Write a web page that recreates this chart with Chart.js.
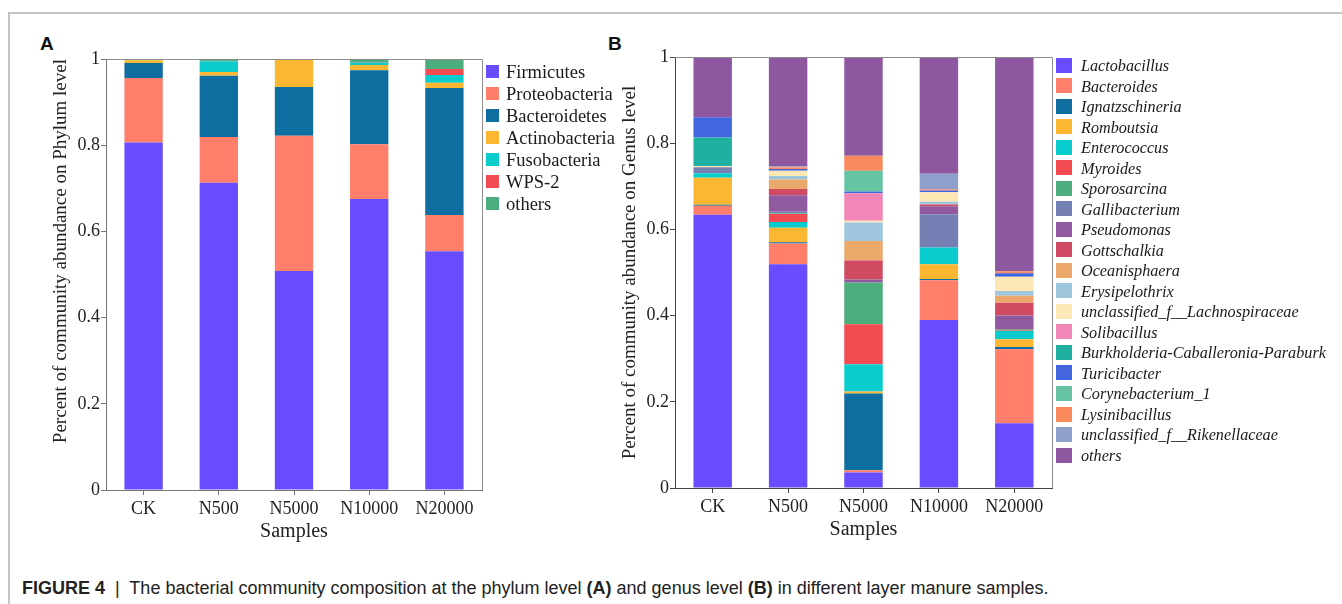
<!DOCTYPE html>
<html>
<head>
<meta charset="utf-8">
<script src="https://cdn.jsdelivr.net/npm/chart.js@4.4.1/dist/chart.umd.min.js"></script>
<style>
body{margin:0;width:1342px;height:604px;position:relative;overflow:hidden;background:#fff;font-family:"Liberation Serif",serif;}
#frame{position:absolute;left:8px;top:12px;width:1340px;height:600px;border-top:2px solid #c4c4c4;border-left:2px solid #c4c4c4;}
.plabel{position:absolute;font-family:"Liberation Sans",Arial,sans-serif;font-weight:bold;font-size:19px;color:#111;}
canvas{position:absolute;top:0;}
.legend{position:absolute;color:#1a1a1a;}
.legend .row{position:relative;white-space:nowrap;}
.legend .sw{position:absolute;left:0;}
#caption{position:absolute;left:22px;top:578px;font-family:"Liberation Sans",Arial,sans-serif;font-size:18px;color:#222;white-space:nowrap;}
</style>
</head>
<body>
<div id="frame"></div>
<div class="plabel" style="left:40px;top:33px">A</div>
<div class="plabel" style="left:608px;top:33px">B</div>
<canvas id="chartA" width="490" height="560" style="left:0px"></canvas>
<canvas id="chartB" width="500" height="560" style="left:560px"></canvas>
<div id="legendA" class="legend" style="left:486px;top:62px"></div>
<div id="legendB" class="legend" style="left:1056px;top:56px"></div>
<div id="caption"><b>FIGURE 4</b> &nbsp;|&nbsp; The bacterial community composition at the phylum level <b>(A)</b> and genus level <b>(B)</b> in different layer manure samples.</div>
<script>
// samples on the x axis
const samples=["CK","N500","N5000","N10000","N20000"];
const yTicks=[0,0.2,0.4,0.6,0.8,1];

// panel A - phylum level
const phylumNames=["Firmicutes","Proteobacteria","Bacteroidetes","Actinobacteria","Fusobacteria","WPS-2","others"];
const phylumColors=["#684cff","#ff7f6b","#0e6ea0","#fbb632","#0acccc","#f24c52","#4bae7c"];
const firmicutes=[0.806,0.713,0.508,0.675,0.554];
const proteobacteria=[0.150,0.106,0.314,0.127,0.084];
const bacteroidetes=[0.035,0.142,0.113,0.172,0.295];
const actinobacteria=[0.006,0.009,0.063,0.012,0.012];
const fusobacteria=[0.001,0.024,0.001,0.006,0.018];
const wps2=[0,0,0,0.001,0.014];
const othersA=[0.002,0.006,0.001,0.007,0.023];

// panel B - genus level
const genusNames=["Lactobacillus","Bacteroides","Ignatzschineria","Romboutsia","Enterococcus","Myroides","Sporosarcina","Gallibacterium","Pseudomonas","Gottschalkia","Oceanisphaera","Erysipelothrix","unclassified_f__Lachnospiraceae","Solibacillus","Burkholderia-Caballeronia-Paraburk","Turicibacter","Corynebacterium_1","Lysinibacillus","unclassified_f__Rikenellaceae","others"];
const genusColors=["#684cff","#ff7f6b","#0e6ea0","#fbb632","#0acccc","#f24c52","#4bae7c","#7480b4","#915aa0","#d04a62","#eaa86a","#9ec6dc","#fde7b4","#f286b8","#20b0a2","#4166e0","#66c4a2","#fa8a5e","#8ea0cc","#8e58a0"];
const lactobacillus=[0.634,0.519,0.036,0.390,0.150];
const bacteroides=[0.021,0.048,0.005,0.092,0.172];
const ignatzschineria=[0.002,0.003,0.178,0.003,0.005];
const romboutsia=[0.063,0.034,0.005,0.034,0.018];
const enterococcus=[0.010,0.013,0.063,0.039,0.020];
const myroides=[0,0.019,0.093,0,0.002];
const sporosarcina=[0,0.001,0.097,0,0.002];
const gallibacterium=[0.014,0.004,0,0.077,0];
const pseudomonas=[0,0.038,0.007,0.019,0.031];
const gottschalkia=[0,0.015,0.044,0.004,0.030];
const oceanisphaera=[0,0.022,0.045,0,0.016];
const erysipelothrix=[0,0.008,0.043,0.006,0.011];
const lachnospiraceae=[0.003,0.012,0.004,0.022,0.033];
const solibacillus=[0,0,0.064,0,0];
const burkholderia=[0.066,0,0,0,0];
const turicibacter=[0.047,0.004,0.004,0.004,0.008];
const corynebacterium=[0,0,0.048,0,0];
const lysinibacillus=[0,0.004,0.035,0.003,0.005];
const rikenellaceae=[0,0.002,0,0.036,0];
const othersB=[0.140,0.254,0.229,0.271,0.497];

const phylumSeries=[firmicutes,proteobacteria,bacteroidetes,actinobacteria,fusobacteria,wps2,othersA];
const genusSeries=[lactobacillus,bacteroides,ignatzschineria,romboutsia,enterococcus,myroides,sporosarcina,gallibacterium,pseudomonas,gottschalkia,oceanisphaera,erysipelothrix,lachnospiraceae,solibacillus,burkholderia,turicibacter,corynebacterium,lysinibacillus,rikenellaceae,othersB];

const serif="'Liberation Serif','Times New Roman',serif";

// grey top + right border round the plot area
const frameLines={
    id:'frameLines',
    afterDraw(chart,args,opts){
        const a=chart.chartArea,ctx=chart.ctx;
        ctx.save();
        ctx.strokeStyle=opts.color||'#888';
        ctx.lineWidth=1;
        ctx.beginPath();
        ctx.moveTo(a.left,a.top+0.5);
        ctx.lineTo(a.right+0.5,a.top+0.5);
        ctx.lineTo(a.right+0.5,a.bottom);
        ctx.stroke();
        ctx.restore();
    }
};

function makeChart(id,names,colors,series,o){
    const datasets=names.map((n,i)=>({label:n,data:series[i],backgroundColor:colors[i],borderWidth:0}));
    return new Chart(document.getElementById(id).getContext('2d'),{
        type:'bar',
        data:{labels:samples,datasets:datasets},
        options:{
            responsive:false,animation:false,
            layout:{padding:{left:0,top:o.top,right:o.right,bottom:0}},
            datasets:{bar:{categoryPercentage:1,barPercentage:0.51}},
            plugins:{legend:{display:false},tooltip:{enabled:false},frameLines:{color:'#8c8c8c'}},
            scales:{
                x:{
                    stacked:true,
                    grid:{display:true,drawOnChartArea:false,offset:false,tickLength:5,color:o.axis},
                    border:{color:o.axis},
                    ticks:{color:'#222',padding:3,font:{family:serif,size:18}},
                    title:{display:true,text:'Samples',color:'#222',font:{family:serif,size:20},padding:{top:0,bottom:o.xTitlePad}},
                    afterFit(s){s.height=o.xh;}
                },
                y:{
                    stacked:true,min:0,max:1,
                    afterBuildTicks(s){s.ticks=yTicks.map(v=>({value:v}));},
                    grid:{display:true,drawOnChartArea:false,tickLength:5,color:o.axis},
                    border:{color:o.axis},
                    ticks:{color:'#222',padding:1,font:{family:serif,size:18},callback:v=>String(v)},
                    title:{display:true,text:o.ytitle,color:'#222',align:o.yAlign,font:{family:serif,size:19},padding:{top:o.yTitlePad,bottom:0}},
                    afterFit(s){s.width=o.yw;}
                }
            }
        },
        plugins:[frameLines]
    });
}

makeChart('chartA',phylumNames,phylumColors,phylumSeries,{top:59,right:8,xh:70,yw:106,xTitlePad:16,yTitlePad:50,yAlign:'end',axis:'#777',ytitle:'Percent of community abundance on Phylum level'});
makeChart('chartB',genusNames,genusColors,genusSeries,{top:57,right:8,xh:72,yw:115,xTitlePad:18,yTitlePad:59,yAlign:'center',axis:'#444',ytitle:'Percent of community abundance on Genus level'});

function buildLegend(id,names,colors,cfg){
    const box=document.getElementById(id);
    names.forEach((n,i)=>{
        const row=document.createElement('div');
        row.className='row';
        row.style.height=cfg.step+'px';
        row.style.lineHeight=cfg.step+'px';
        row.style.paddingLeft=cfg.textX+'px';
        row.style.fontSize=cfg.size+'px';
        if(cfg.italic) row.style.fontStyle='italic';
        const sw=document.createElement('span');
        sw.className='sw';
        sw.style.width=cfg.bw+'px';sw.style.height=cfg.bh+'px';
        sw.style.top=((cfg.step-cfg.bh)/2-1)+'px';
        sw.style.background=colors[i];
        row.appendChild(sw);
        row.appendChild(document.createTextNode(n));
        box.appendChild(row);
    });
}
buildLegend('legendA',phylumNames,phylumColors,{step:21.95,textX:20,size:18.5,bw:13,bh:13,italic:false});
buildLegend('legendB',genusNames,genusColors,{step:20.53,textX:25,size:16.2,bw:16,bh:15,italic:true});
</script>
</body>
</html>
